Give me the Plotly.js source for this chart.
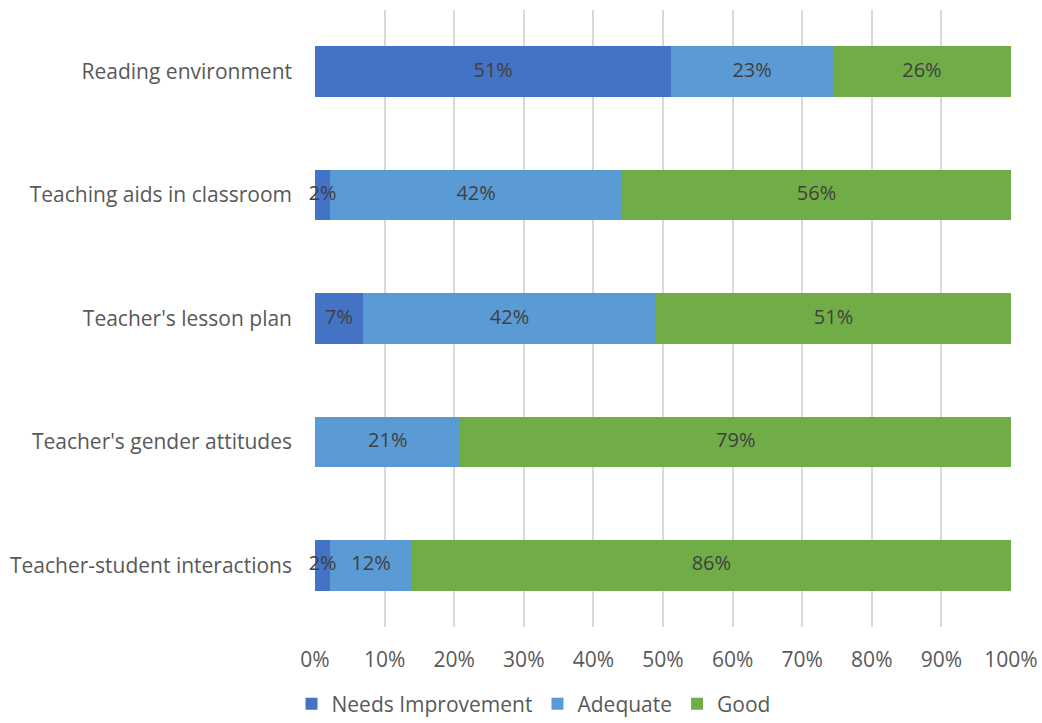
<!DOCTYPE html>
<html><head><meta charset="utf-8">
<script src="https://cdn.plot.ly/plotly-3.0.1.min.js"></script>
<style>html,body{margin:0;padding:0;background:#fff;}#chart{width:1042px;height:723px;}</style>
</head><body><div id="chart"></div>
<script>
const categories = ["Reading environment","Teaching aids in classroom","Teacher's lesson plan","Teacher's gender attitudes","Teacher-student interactions"];
const needsImprovement = [51.2, 2.2, 6.9, 0, 2.2];
const adequate = [23.2, 41.9, 42.1, 20.9, 11.7];
const good = [25.6, 55.9, 51.0, 79.1, 86.1];
const seriesNames = ["Needs Improvement","Adequate","Good"];
const colors = ["#4472C4","#5B9BD5","#70AD47"];
const tickVals = [0,10,20,30,40,50,60,70,80,90,100];
const tickText = ["0%","10%","20%","30%","40%","50%","60%","70%","80%","90%","100%"];

const FONT = "'Open Sans', sans-serif";
const FS = 21;
const cats = categories.slice().reverse();
const series = [needsImprovement, adequate, good].map(s => s.slice().reverse());
const data = [];
series.forEach((v, i) => {
  data.push({
    type:'bar', orientation:'h', name:seriesNames[i], y:cats, x:v,
    marker:{color:colors[i], line:{width:0}},
    hoverinfo:'none'
  });
});
// data labels on top of all bars, placed at each segment's centre
series.forEach((v, i) => {
  const mids = v.map((d, k) => {
    let base = 0;
    for (let j = 0; j < i; j++) base += series[j][k];
    return base + d / 2;
  });
  data.push({
    type:'scatter', mode:'text', showlegend:false, hoverinfo:'none',
    x:mids, y:cats,
    text:v.map(d => d > 0 ? Math.round(d) + '%' : ''),
    textposition:'middle center',
    textfont:{family:FONT, size:FS - 1, color:'#404040'},
    cliponaxis:false
  });
});
const layout = {
  width:1042, height:723,
  margin:{l:315, r:31, t:10, b:96, autoexpand:false},
  barmode:'stack', bargap:0.59,
  paper_bgcolor:'#fff', plot_bgcolor:'#fff',
  font:{family:FONT, size:FS, color:'#595959'},
  xaxis:{range:[0,100], tickvals:tickVals, ticktext:tickText, showgrid:true, gridcolor:'#D9D9D9', gridwidth:2,
         zeroline:false, showline:false, ticks:'', ticklabelstandoff:18, fixedrange:true, automargin:false,
         tickfont:{family:FONT, size:FS, color:'#595959'}},
  yaxis:{showgrid:false, zeroline:false, showline:false, ticks:'', ticklabelstandoff:22, automargin:false,
         tickfont:{family:FONT, size:FS, color:'#595959'}},
  showlegend:true,
  legend:{orientation:'h', x:0.512, xanchor:'center', xref:'container', y:0.026, yref:'container', yanchor:'middle',
          font:{family:FONT, size:FS, color:'#595959'}, traceorder:'normal', itemwidth:20}
};
Plotly.newPlot('chart', data, layout, {displayModeBar:false, staticPlot:true});
</script></body></html>
